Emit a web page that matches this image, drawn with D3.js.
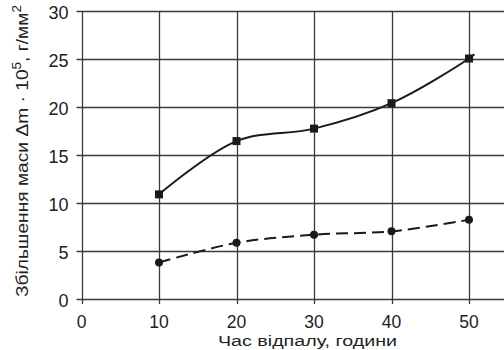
<!DOCTYPE html>
<html>
<head>
<meta charset="utf-8">
<script src="https://cdn.jsdelivr.net/npm/d3@7"></script>
<style>
body { margin: 0; background: #fff; }
text { font-family: "Liberation Sans", Arial, sans-serif; fill: #222; }
</style>
</head>
<body>
<svg class="chart" width="504" height="350"></svg>
<script>
var hours = [10, 20, 30, 40, 50];
var squareSeries = [10.9, 16.45, 17.75, 20.4, 25.05];
var circleSeries = [3.8, 5.85, 6.7, 7.05, 8.25];
var xTicks = [0, 10, 20, 30, 40, 50];
var yTicks = [0, 5, 10, 15, 20, 25, 30];

var svg = d3.select(".chart");
var margin = {top: 11, left: 81.5, bottom: 299};

var x = d3.scaleLinear().domain([0, 55]).range([margin.left, margin.left + 55 * 7.75]);
var y = d3.scaleLinear().domain([0, 30]).range([margin.bottom, margin.top]);

// grid
svg.append("g").selectAll("line")
    .data(yTicks)
    .enter().append("line")
    .attr("x1", x(0) - 5).attr("x2", 504)
    .attr("y1", function(d) { return Math.round(y(d)) + 0.5; })
    .attr("y2", function(d) { return Math.round(y(d)) + 0.5; })
    .attr("stroke", "#3a3a3a").attr("stroke-width", 1.3);

svg.append("g").selectAll("line")
    .data(xTicks)
    .enter().append("line")
    .attr("y1", y(30)).attr("y2", y(0) + 5)
    .attr("x1", function(d) { return Math.round(x(d)) + 0.5; })
    .attr("x2", function(d) { return Math.round(x(d)) + 0.5; })
    .attr("stroke", "#3a3a3a").attr("stroke-width", 1.3);

// tick labels
svg.append("g").selectAll("text")
    .data(yTicks)
    .enter().append("text")
    .attr("x", x(0) - 13)
    .attr("y", function(d) { return y(d) + 8; })
    .attr("text-anchor", "end")
    .attr("font-size", 18)
    .text(function(d) { return d; });

svg.append("g").selectAll("text")
    .data(xTicks)
    .enter().append("text")
    .attr("x", function(d) { return x(d); })
    .attr("y", 328)
    .attr("text-anchor", "middle")
    .attr("font-size", 17.5)
    .text(function(d) { return d; });

// axis titles
svg.append("text")
    .attr("x", 218).attr("y", 346)
    .attr("font-size", 15.5)
    .attr("textLength", 179)
    .attr("lengthAdjust", "spacingAndGlyphs")
    .text("Час відпалу, години");

var yl = svg.append("text")
    .attr("transform", "translate(28,297) rotate(-90)")
    .attr("font-size", 17)
    .attr("textLength", 292)
    .attr("lengthAdjust", "spacingAndGlyphs");
yl.append("tspan").text("Збільшення маси Δm · 10");
yl.append("tspan").attr("baseline-shift", "super").attr("font-size", 12).text("5");
yl.append("tspan").text(", г/мм");
yl.append("tspan").attr("baseline-shift", "super").attr("font-size", 12).text("2");

// lines
var sqData = hours.map(function(h, i) { return [h, squareSeries[i]]; });
var ciData = hours.map(function(h, i) { return [h, circleSeries[i]]; });

var line = d3.line()
    .x(function(d) { return x(d[0]); })
    .y(function(d) { return y(d[1]); })
    .curve(d3.curveCatmullRom.alpha(0.5));

var sqLine = sqData.concat([[50.7, 25.5]]);
svg.append("path")
    .datum(sqLine)
    .attr("d", line)
    .attr("fill", "none")
    .attr("stroke", "#1a1a1a")
    .attr("stroke-width", 2);

svg.append("path")
    .datum(ciData)
    .attr("d", line)
    .attr("fill", "none")
    .attr("stroke", "#1a1a1a")
    .attr("stroke-width", 2)
    .attr("stroke-dasharray", "12,6");

svg.append("g").selectAll("rect")
    .data(sqData)
    .enter().append("rect")
    .attr("x", function(d) { return x(d[0]) - 4; })
    .attr("y", function(d) { return y(d[1]) - 4; })
    .attr("width", 8).attr("height", 8)
    .attr("fill", "#1a1a1a");

svg.append("g").selectAll("circle")
    .data(ciData)
    .enter().append("circle")
    .attr("cx", function(d) { return x(d[0]); })
    .attr("cy", function(d) { return y(d[1]); })
    .attr("r", 4)
    .attr("fill", "#1a1a1a");
</script>
</body>
</html>
